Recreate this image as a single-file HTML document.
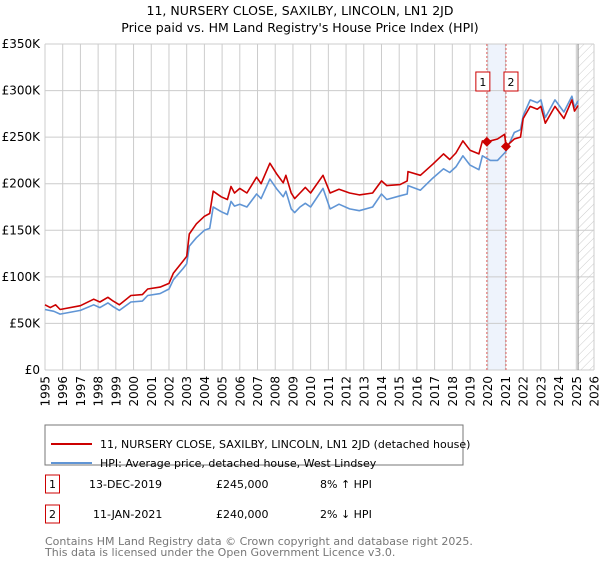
<!DOCTYPE html>
<html><head><meta charset="utf-8"><style>
body{margin:0;background:#fff;font-family:"Liberation Sans","DejaVu Sans",sans-serif;}
svg text{font-family:"DejaVu Sans","Liberation Sans",sans-serif;}
</style></head><body>
<svg id="c" width="600" height="560" xmlns="http://www.w3.org/2000/svg">
<defs><pattern id="hatch" width="6" height="6" patternUnits="userSpaceOnUse" patternTransform="rotate(45)"><line x1="0" y1="0" x2="0" y2="6" stroke="#ccc" stroke-width="1"/></pattern></defs>
<text x="300" y="15" text-anchor="middle" font-size="12.5">11, NURSERY CLOSE, SAXILBY, LINCOLN, LN1 2JD</text>
<text x="300" y="32" text-anchor="middle" font-size="12.5">Price paid vs. HM Land Registry's House Price Index (HPI)</text>
<g id="grid"></g><g id="series"></g><g id="axes"></g>
<rect x="45" y="425" width="418" height="40" fill="#fff" stroke="#777"/>
<line x1="51" y1="444" x2="92" y2="444" stroke="#cc0000" stroke-width="2"/>
<text x="100" y="448" font-size="11">11, NURSERY CLOSE, SAXILBY, LINCOLN, LN1 2JD (detached house)</text>
<line x1="51" y1="463" x2="92" y2="463" stroke="#6095d5" stroke-width="2"/>
<text x="100" y="467" font-size="11">HPI: Average price, detached house, West Lindsey</text>
<g>
<rect x="45.5" y="475" width="14" height="18" fill="#fff" stroke="#cc0000"/><text x="52.5" y="488" text-anchor="middle" font-size="11">1</text>
<text x="89" y="488" font-size="11">13-DEC-2019</text><text x="216" y="488" font-size="11">£245,000</text><text x="320" y="488" font-size="11">8% ↑ HPI</text></g>
<g>
<rect x="45.5" y="505" width="14" height="18" fill="#fff" stroke="#cc0000"/><text x="52.5" y="518" text-anchor="middle" font-size="11">2</text>
<text x="93" y="518" font-size="11">11-JAN-2021</text><text x="216" y="518" font-size="11">£240,000</text><text x="320" y="518" font-size="11">2% ↓ HPI</text></g>
<text x="45" y="545" font-size="11" fill="#777">Contains HM Land Registry data © Crown copyright and database right 2025.</text>
<text x="45" y="556" font-size="11" fill="#777">This data is licensed under the Open Government Licence v3.0.</text>
</svg>
<script>
const hpiYears=[1995,1995.5,1995.85,1997,1997.75,1998.1,1998.55,1998.85,1999.2,1999.85,2000.5,2000.8,2001.5,2002,2002.25,2002.8,2003,2003.15,2003.55,2004,2004.3,2004.5,2004.95,2005.3,2005.5,2005.7,2006,2006.4,2006.95,2007.2,2007.7,2008.1,2008.45,2008.6,2008.9,2009.1,2009.4,2009.7,2010,2010.7,2011.1,2011.6,2012.2,2012.75,2013.5,2014,2014.3,2015.05,2015.45,2015.5,2016.2,2016.9,2017.5,2017.85,2018.2,2018.6,2019,2019.5,2019.7,2020.15,2020.55,2021,2021.5,2021.85,2022,2022.4,2022.8,2023,2023.25,2023.8,2024.3,2024.75,2024.9,2025.1];
const hpiValues=[65,63,60,64,70,67,72,68,64,73,74,80,82,87,97,109,114,133,142,150,152,175,170,167,181,176,178,175,189,184,205,194,186,192,173,169,175,179,175,195,173,178,173,171,175,189,183,187,189,198,193,206,216,212,218,230,220,215,230,225,225,234,255,258,273,290,287,290,271,290,277,294,282,289];
const propYears=[1995,1995.3,1995.6,1995.85,1997,1997.75,1998.1,1998.55,1998.85,1999.2,1999.85,2000.5,2000.8,2001.5,2002,2002.25,2002.8,2003,2003.15,2003.55,2004,2004.3,2004.5,2004.95,2005.3,2005.5,2005.7,2006,2006.4,2006.95,2007.2,2007.7,2008.1,2008.45,2008.6,2008.9,2009.1,2009.4,2009.7,2010,2010.7,2011.1,2011.6,2012.2,2012.75,2013.5,2014,2014.3,2015.05,2015.45,2015.5,2016.2,2016.9,2017.5,2017.85,2018.2,2018.6,2019,2019.5,2019.7,2019.95,2020.55,2020.95,2021.03,2021.5,2021.85,2022,2022.4,2022.8,2023,2023.25,2023.8,2024.3,2024.75,2024.9,2025.1];
const propValues=[70,67,70,65,69,76,73,78,74,70,80,81,87,89,93,104,117,122,146,157,165,168,192,186,183,197,190,195,190,207,200,222,210,201,209,190,184,190,196,190,209,190,194,190,188,190,203,198,199,203,213,209,221,232,226,233,246,236,232,246,245,248,253,240,248,250,270,283,280,283,265,283,270,290,278,284];
const saleYears=[2019.95,2021.03];
const saleValues=[245,240];
const saleLabels=["1","2"];
const yTicks=[0,50,100,150,200,250,300,350];
const yTickLabels=["£0","£50K","£100K","£150K","£200K","£250K","£300K","£350K"];
const xTicks=[1995,1996,1997,1998,1999,2000,2001,2002,2003,2004,2005,2006,2007,2008,2009,2010,2011,2012,2013,2014,2015,2016,2017,2018,2019,2020,2021,2022,2023,2024,2025,2026];
const X0=45,X1=594,Y0=370,Y1=44;
const xs=y=>X0+(y-1995)/(2026-1995)*(X1-X0);
const ys=v=>Y0-v/350*(Y0-Y1);
const NS="http://www.w3.org/2000/svg";
function mk(tag,attrs,parent){const e=document.createElementNS(NS,tag);for(const k in attrs)e.setAttribute(k,attrs[k]);parent.appendChild(e);return e;}
const grid=document.getElementById('grid'),ser=document.getElementById('series'),ax=document.getElementById('axes');
const band=mk('rect',{x:xs(saleYears[0]),y:Y1,width:xs(saleYears[1])-xs(saleYears[0]),height:Y0-Y1,fill:'#eef3fc'},grid);


const hatch=mk('rect',{x:xs(2025.1),y:Y1,width:X1-xs(2025.1),height:Y0-Y1,fill:'url(#hatch)'},grid);


yTicks.forEach((t,i)=>{
 const l=mk('line',{x1:X0,x2:X1,y1:ys(t),y2:ys(t),stroke:'#ccc'},grid);
 
 
 const tx=mk('text',{x:40,y:ys(t)+4,'text-anchor':'end','font-size':'12'},ax);tx.textContent=yTickLabels[i];
 
 
});
xTicks.forEach(t=>{
 const l=mk('line',{x1:xs(t),x2:xs(t),y1:Y1,y2:Y0,stroke:'#ccc'},grid);
 
 
 const tx=mk('text',{x:0,y:0,'text-anchor':'end','font-size':'12',transform:`translate(${xs(t)+4.5},${Y0+6}) rotate(-90)`},ax);tx.textContent=t;
 
 
});
const vl=mk('line',{x1:xs(2025.1),x2:xs(2025.1),y1:Y1,y2:Y0,stroke:'#888'},grid);


saleYears.forEach((y,i)=>{
 const l=mk('line',{x1:xs(y),x2:xs(y),y1:Y1,y2:Y0,stroke:'#e06060','stroke-dasharray':'2,2'},grid);
 
 
});
function pts(a,b){return a.map((y,i)=>xs(y).toFixed(1)+','+ys(b[i]).toFixed(1)).join(' ');}
const h=mk('polyline',{points:pts(hpiYears,hpiValues),fill:'none',stroke:'#6095d5','stroke-width':1.6,'stroke-linejoin':'round'},ser);


const p=mk('polyline',{points:pts(propYears,propValues),fill:'none',stroke:'#cc0000','stroke-width':1.6,'stroke-linejoin':'round'},ser);


saleYears.forEach((y,i)=>{
 const cx=xs(y),cy=ys(saleValues[i]);
 const m=mk('polygon',{points:`${cx},${cy-5} ${cx+5},${cy} ${cx},${cy+5} ${cx-5},${cy}`,fill:'#cc0000'},ser);
 
 
 const g=mk('g',{},ser);
 
 
 const off=i==0?-4:5;
 mk('rect',{x:cx+off-7,y:72,width:14,height:19,fill:'#fff',stroke:'#cc0000'},g);
 const t=mk('text',{x:cx+off,y:86,'text-anchor':'middle','font-size':'11'},g);t.textContent=saleLabels[i];
});
</script>
</body></html>
